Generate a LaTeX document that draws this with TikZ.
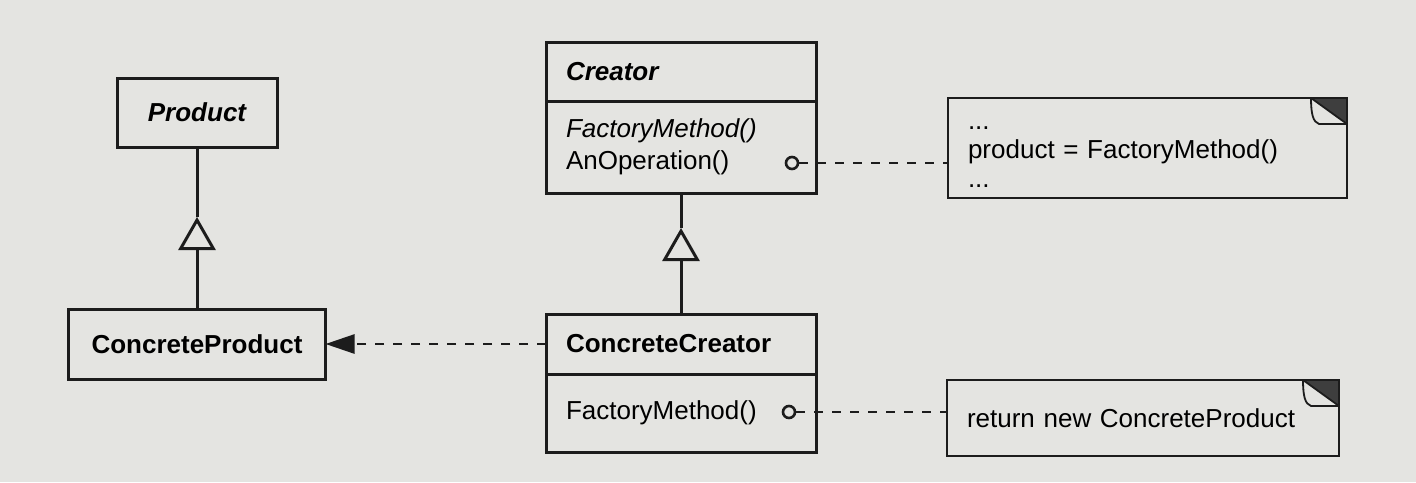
\documentclass[tikz,border=0pt]{standalone}
\usepackage{fontspec}
\setmainfont{Liberation Sans}
\usetikzlibrary{positioning,arrows.meta}

\definecolor{paper}{RGB}{228,228,225}
\definecolor{ink}{RGB}{28,28,28}

\begin{document}
\begin{tikzpicture}[x=0.5pt, y=-0.5pt,
    box/.style = {draw=ink, line width=1.5pt, outer sep=0pt, font=\fontsize{13}{16}\selectfont},
    part/.style = {box, inner xsep=10pt, text width=115pt, align=left},
    note/.style = {draw=ink, line width=1.4pt, outer sep=0pt, inner xsep=10pt, align=left,
      font=\fontsize{13}{14.5}\selectfont,
      path picture={
        \coordinate (ne) at (path picture bounding box.north east);
        \fill[ink!85] ([xshift=-18pt]ne) -- (ne) -- ([yshift=-13pt]ne) -- cycle;
        \draw[ink, line width=0.9pt, fill=paper] ([xshift=-18pt]ne)
          .. controls ([xshift=-18pt,yshift=-8pt]ne) and ([xshift=-17pt,yshift=-12pt]ne) .. ([xshift=-14pt,yshift=-13pt]ne)
          -- ([yshift=-13pt]ne) -- cycle;
      }},
    link/.style = {draw=ink, line width=1.3pt, dash pattern=on 4.5pt off 4.5pt},
    dot/.style = {circle, draw=ink, line width=1.3pt, fill=paper, inner sep=0pt, minimum size=6pt}]

  \fill[paper] (0,0) rectangle (1416,482);

  % product side
  \node[box, minimum width=80pt, minimum height=34.5pt, font=\fontsize{13}{16}\selectfont\bfseries\itshape] (product) at (197,112.5) {Product};
  \node[box, minimum width=128.5pt, minimum height=35pt, font=\fontsize{13}{16}\selectfont\bfseries] (cproduct) at (197,344) {ConcreteProduct};

  \coordinate (ptip) at (197,217);
  \draw[ink, line width=1.5pt] (product.south) -- (ptip);
  \draw[ink, line width=1.5pt, -{Triangle[open, length=16.5pt, width=18.5pt, line width=1.5pt]}] (cproduct.north) -- (ptip);

  % creator side
  \node[part, minimum height=29.5pt, font=\fontsize{13}{16}\selectfont\bfseries\itshape] (creator) at (681,71.5) {Creator};
  \node[part, minimum height=46pt, below=0pt of creator] (crops) {\textit{FactoryMethod()}\\AnOperation()};
  \node[dot] (opdot) at (792,163) {};

  \node[part, minimum height=30pt, font=\fontsize{13}{16}\selectfont\bfseries] (ccreator) at (681,344) {ConcreteCreator};
  \node[part, minimum height=39pt, below=0pt of ccreator] (ccops) {FactoryMethod()};
  \node[dot] (fmdot) at (789,412) {};

  \coordinate (ctip) at (681,228);
  \draw[ink, line width=1.5pt] (crops.south) -- (ctip);
  \draw[ink, line width=1.5pt, -{Triangle[open, length=16.5pt, width=18.5pt, line width=1.5pt]}] (ccreator.north) -- (ctip);

  % notes
  \node[note, minimum height=50pt, text width=179.5pt] (opnote) at (1147.5,148) {\strut...\\product = FactoryMethod()\\...};
  \node[note, minimum height=38pt, text width=176pt] (fmnote) at (1143,418) {return new ConcreteProduct};

  \draw[link] (opdot) -- (opdot -| opnote.west);
  \draw[link] (fmdot) -- (fmdot -| fmnote.west);
  \draw[link, -{Triangle[length=14.5pt, width=9.5pt]}] (ccreator.west) -- (cproduct.east);

\end{tikzpicture}
\end{document}
